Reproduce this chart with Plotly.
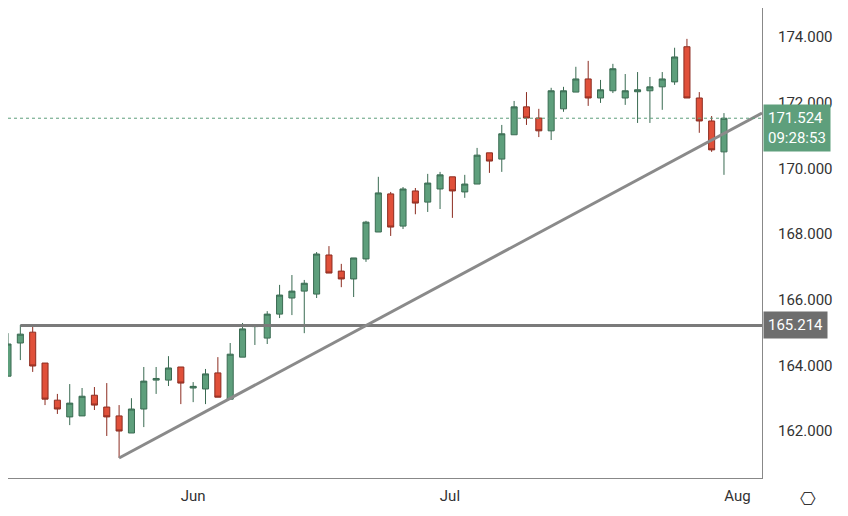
import plotly.graph_objects as go

opens = [163.67,164.68,165.01,164.07,162.94,162.43,162.46,163.09,162.73,162.46,161.94,162.67,163.55,163.55,163.95,163.31,163.28,163.77,162.97,164.25,165.18,164.83,165.56,166.05,166.26,166.17,167.36,166.87,166.63,167.24,168.06,169.22,168.24,169.31,168.97,169.37,169.74,169.28,169.52,170.47,170.28,171.02,171.87,171.53,171.14,171.81,172.32,172.72,172.14,172.36,172.14,172.33,172.36,172.48,172.63,173.70,172.14,171.44,170.50]
highs = [164.98,165.23,165.23,164.07,163.13,163.43,163.31,163.34,163.46,162.79,163.00,163.95,163.95,164.28,163.95,163.49,163.89,164.25,164.68,165.29,165.25,165.65,166.45,166.75,166.60,167.45,167.63,167.09,167.27,168.40,169.74,169.28,169.43,169.40,169.83,169.89,169.74,169.80,170.62,170.47,171.32,172.05,172.32,171.81,172.45,172.48,173.09,173.27,172.69,173.18,172.87,172.93,172.78,172.93,173.67,173.94,172.32,171.59,171.68]
lows = [163.67,164.16,163.80,162.79,162.52,162.18,162.46,162.64,161.85,161.18,161.94,162.12,163.13,163.37,162.82,162.88,162.82,163.03,162.97,164.25,164.62,164.65,165.44,165.53,164.98,166.05,166.81,166.38,166.08,167.15,168.06,167.94,168.15,168.60,168.67,168.76,168.49,169.10,169.52,169.86,169.89,171.02,171.32,170.95,170.86,171.72,172.32,171.90,171.99,172.29,171.93,171.38,171.38,171.78,172.54,172.14,171.08,170.50,169.80]
closes = [164.65,164.95,163.98,162.97,162.67,162.85,163.06,162.79,162.43,162.00,162.67,163.52,163.60,163.92,163.46,163.36,163.74,163.03,164.34,165.11,165.22,165.56,166.14,166.26,166.50,167.39,166.81,166.63,167.27,168.36,169.25,168.21,169.37,168.94,169.55,169.80,169.31,169.52,170.40,170.22,171.05,171.87,171.53,171.14,172.36,172.36,172.72,172.14,172.39,173.03,172.36,172.39,172.48,172.72,173.39,172.14,171.44,170.56,171.524]
month_labels = ["Jun", "Jul", "Aug"]
month_pos = [15.0, 35.8, 59.1]
price_ticks = [162, 164, 166, 168, 170, 172, 174]
support_level = 165.214
last_price = 171.524
countdown = "09:28:53"
trend_start = (9, 161.18)
trend_end = (61.08, 171.68)

XR = [0.0, 61.08]
x = list(range(len(opens)))
fig = go.Figure()
fig.add_trace(go.Candlestick(
    x=x, open=opens, high=highs, low=lows, close=closes,
    increasing=dict(fillcolor="#5e9f7c", line=dict(color="#3a6b52", width=1)),
    decreasing=dict(fillcolor="#e0503a", line=dict(color="#8c2c20", width=1)),
    whiskerwidth=0, showlegend=False, hoverinfo="skip"))
fig.add_trace(go.Scatter(x=[1, XR[1]], y=[support_level]*2, mode="lines",
    line=dict(color="#7a7a7a", width=3), showlegend=False, hoverinfo="skip"))
fig.add_trace(go.Scatter(x=[trend_start[0], trend_end[0]], y=[trend_start[1], trend_end[1]], mode="lines",
    line=dict(color="#8a8a8a", width=3), showlegend=False, hoverinfo="skip"))
fig.add_trace(go.Scatter(x=XR, y=[last_price]*2, mode="lines",
    line=dict(color="#5e9f7c", width=1, dash="dot"), showlegend=False, hoverinfo="skip"))

fig.update_layout(
    width=840, height=508, margin=dict(l=0, r=86, t=0, b=38),
    paper_bgcolor="white", plot_bgcolor="white",
    font=dict(family="Roboto", size=15, color="#333"),
    xaxis=dict(range=XR, tickvals=month_pos, ticktext=month_labels,
               showgrid=False, zeroline=False, rangeslider=dict(visible=False),
               showline=True, linecolor="#888", linewidth=1, ticks="", ticklabelstandoff=4,
               tickfont=dict(size=15, color="#333")),
    yaxis=dict(range=[160.57, 174.88], side="right", tickvals=price_ticks,
               ticktext=[f"{v:.3f}" for v in price_ticks], showgrid=False, zeroline=False,
               showline=True, linecolor="#888", linewidth=1, ticks="", ticklabelstandoff=12,
               tickfont=dict(size=15, color="#333")),
)
fig.add_annotation(xref="paper", yref="y", x=1.0, y=support_level, xanchor="left",
    text=f"{support_level:.3f}", showarrow=False, bgcolor="#6e6e6e", font=dict(color="white", size=15),
    borderpad=4, xshift=1)
fig.add_annotation(xref="paper", yref="y", x=1.0, y=last_price, xanchor="left", yanchor="middle",
    text=f"{last_price:.3f}<br>{countdown}", showarrow=False, bgcolor="#5e9f7c",
    font=dict(color="white", size=15), borderpad=4, xshift=1, yshift=-10, align="left")
fig.add_annotation(xref="paper", yref="paper", x=1.0, y=0, xanchor="left", yanchor="top",
    text="⎔", showarrow=False, font=dict(size=18, color="#333"), xshift=36, yshift=-8)
fig.write_html("out.html")
